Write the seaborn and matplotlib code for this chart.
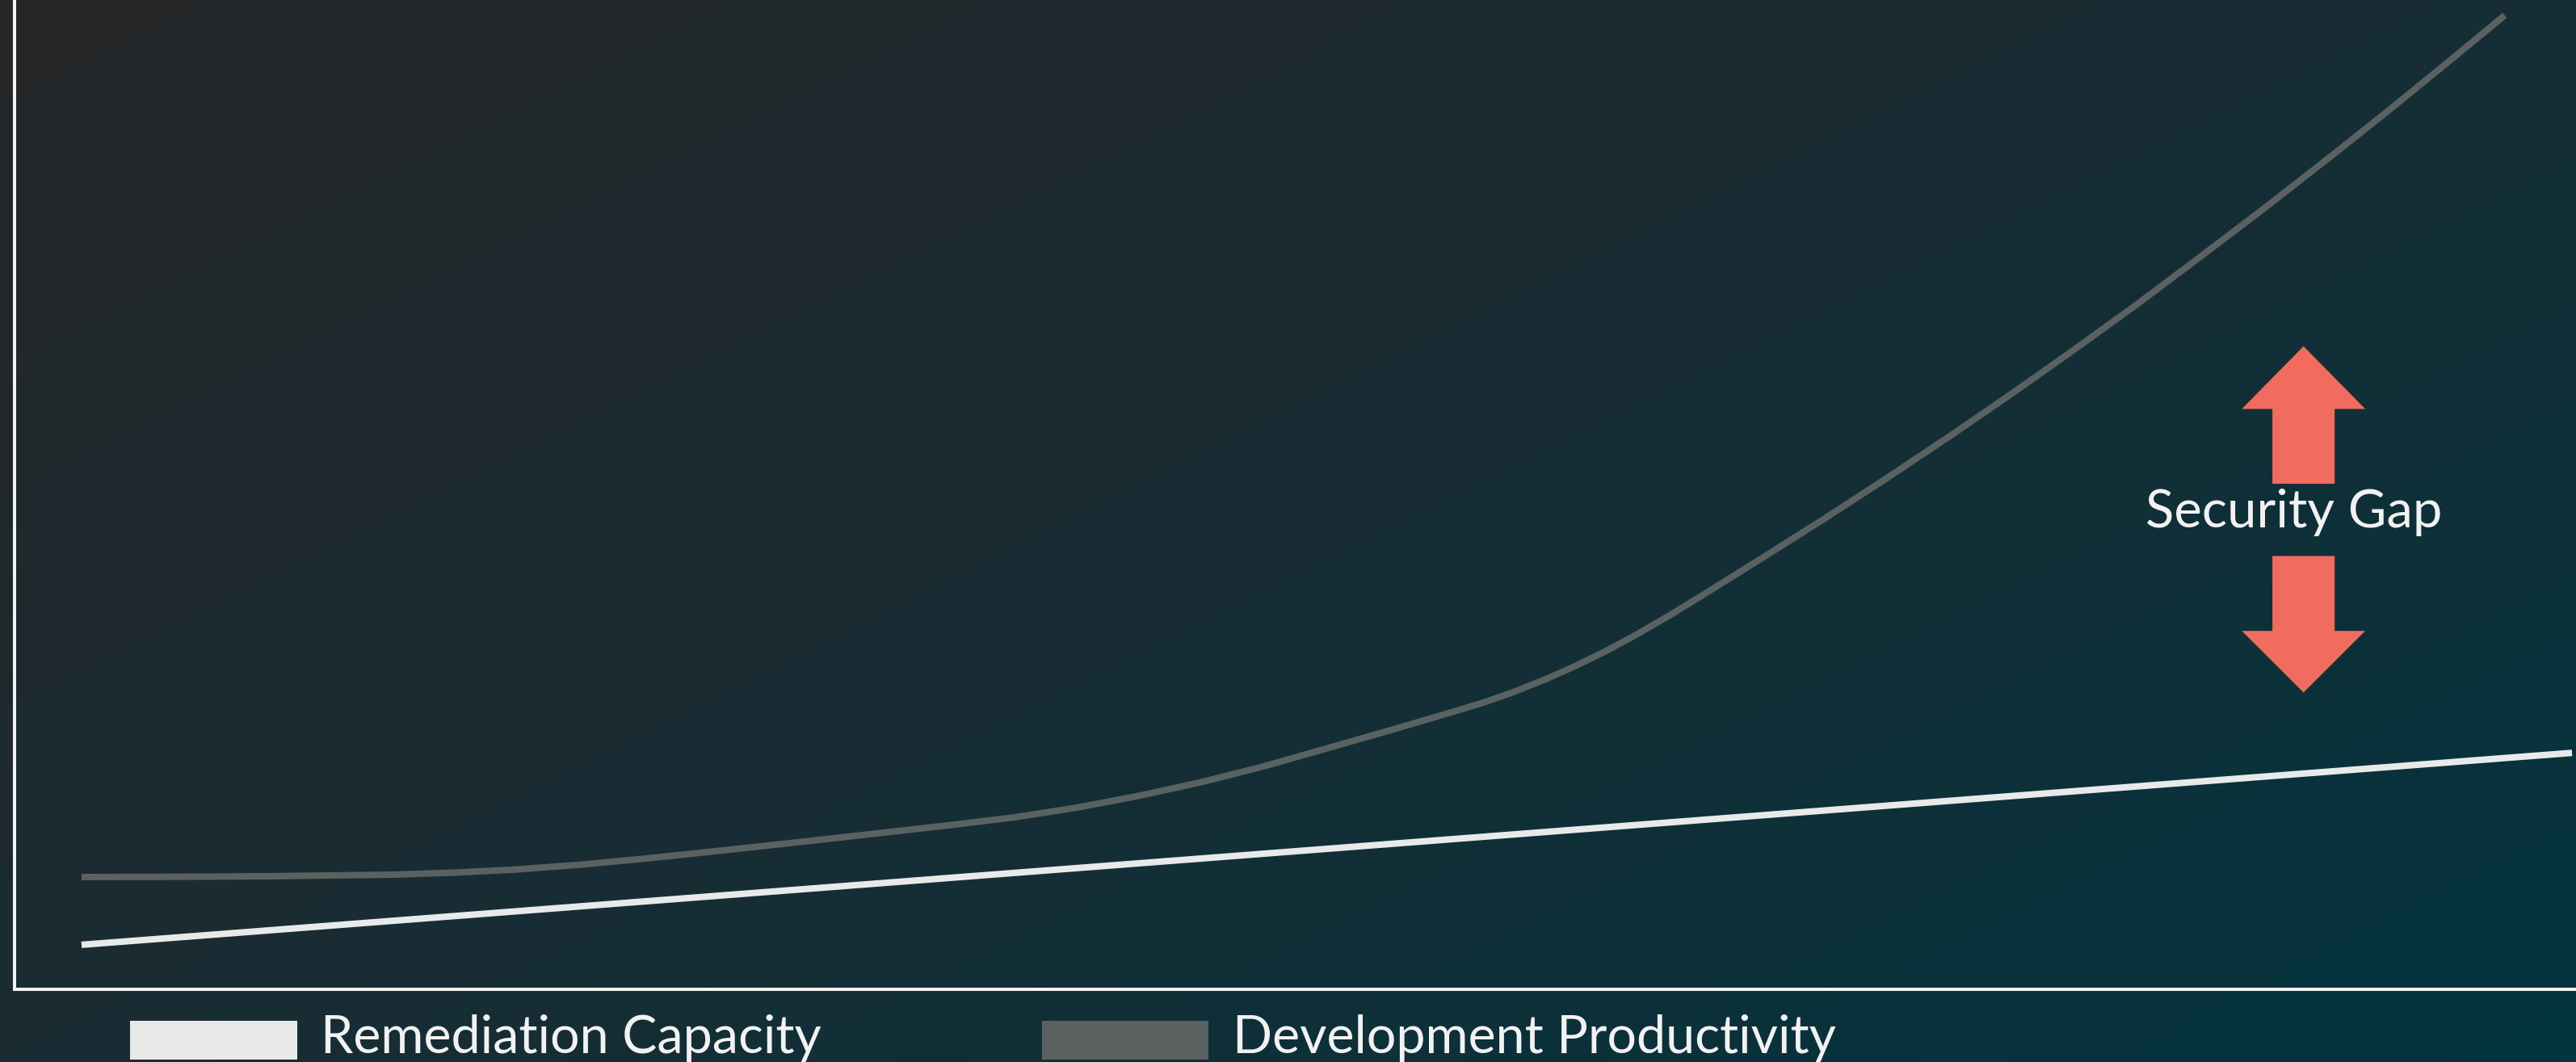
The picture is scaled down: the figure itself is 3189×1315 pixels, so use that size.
import numpy as np
import pandas as pd
import matplotlib
matplotlib.use("Agg")
import matplotlib.pyplot as plt
import seaborn as sns
from matplotlib.patches import Patch, FancyArrow, Rectangle
from matplotlib.legend_handler import HandlerPatch
from matplotlib.colors import LinearSegmentedColormap

# ---------------- data ----------------
series_names = ["Remediation Capacity", "Development Productivity"]

remediation_period = [0.0, 100.0]
remediation_value = [4.5, 23.9]

productivity_period = [0, 2.5, 5, 7.5, 10, 12.5, 15, 17.5, 20, 22.5, 25,
                       27.5, 30, 32.5, 35, 37.5, 40, 42.5, 45, 47.5, 50,
                       52.5, 55, 56.25, 57.5, 58.75, 60, 61.25, 62.5, 63.75,
                       65, 67.5, 70, 72.5, 75, 77.5, 80, 82.5, 85, 87.5, 90,
                       92.5, 95, 97.3]
productivity_value = [11.35, 11.36, 11.39, 11.43, 11.51, 11.59, 11.80, 12.12,
                      12.59, 13.18, 13.84, 14.52, 15.21, 15.92, 16.63, 17.40,
                      18.38, 19.58, 20.96, 22.56, 24.35, 26.15, 28.00, 28.95,
                      30.05, 31.30, 32.70, 34.25, 35.95, 37.77, 39.70, 43.63,
                      47.60, 51.69, 55.89, 60.20, 64.64, 69.18, 73.90, 78.67,
                      83.57, 88.56, 93.68, 98.45]

gap_label = "Security Gap"

line_colors = {"Remediation Capacity": "#e8eaea",
               "Development Productivity": "#5a6161"}
legend_colors = {"Remediation Capacity": "#e8eaea",
                 "Development Productivity": "#5b6161"}

df = pd.concat([
    pd.DataFrame({"period": remediation_period, "value": remediation_value,
                  "series": series_names[0]}),
    pd.DataFrame({"period": productivity_period, "value": productivity_value,
                  "series": series_names[1]}),
], ignore_index=True)

# ---------------- style ----------------
sns.set_theme(style="white")
plt.rcParams["font.family"] = ["Lato", "DejaVu Sans"]
plt.rcParams["lines.solid_capstyle"] = "butt"
plt.rcParams["lines.solid_joinstyle"] = "round"

W, H, DPI = 3189, 1315, 100
fig = plt.figure(figsize=(W / DPI, H / DPI), dpi=DPI)

# background gradient
bg = fig.add_axes([0, 0, 1, 1])
bg.set_axis_off()
xx, yy = np.meshgrid(np.linspace(0, 1, 640), np.linspace(0, 1, 264))
t = 0.55 * xx + 0.45 * yy
cmap = LinearSegmentedColormap.from_list(
    "bg", [(0.0, "#252627"), (0.45, "#1a2c33"), (1.0, "#03343f")])
bg.imshow(t, cmap=cmap, extent=[0, 1, 0, 1], aspect="auto",
          origin="upper", vmin=0, vmax=1, interpolation="bilinear")

# main axes
ax = fig.add_axes([18 / W, 90 / H, (W - 18) / W, 1225 / H])
ax.set_facecolor("none")

sns.lineplot(data=df, x="period", y="value", hue="series",
             palette=line_colors, linewidth=5.8, ax=ax, legend=False,
             estimator=None, sort=False)

ax.set_xlim(-2.69, 100.16)
ax.set_ylim(0, 100)
ax.set_xticks([])
ax.set_yticks([])
ax.set_xlabel("")
ax.set_ylabel("")
for side in ["top", "right"]:
    ax.spines[side].set_visible(False)
for side in ["left", "bottom"]:
    ax.spines[side].set_color("#f2f2f2")
    ax.spines[side].set_linewidth(2.9)

# gap arrows
arrow_x = 89.22
arrow_color = "#f26b5f"
ax.add_patch(FancyArrow(arrow_x, 51.1, 0, 13.9, width=2.5, head_width=4.96,
                        head_length=6.34, length_includes_head=True,
                        color=arrow_color, lw=0))
ax.add_patch(FancyArrow(arrow_x, 43.8, 0, -13.8, width=2.5, head_width=4.96,
                        head_length=6.23, length_includes_head=True,
                        color=arrow_color, lw=0))
ax.text(88.84, 46.67, gap_label, ha="center", va="baseline",
        fontsize=47, color="#f2f2f2")


# legend
def low_rect(legend, orig_handle, xdescent, ydescent, width, height, fontsize):
    return Rectangle((-xdescent, -ydescent - 0.1 * fontsize), width, height)


handles = [Patch(facecolor=legend_colors[n], edgecolor="none", label=n)
           for n in series_names]
fig.legend(handles=handles, ncol=2, loc="lower left",
           bbox_to_anchor=(161 / W, 0.0), frameon=False, fontsize=46.5,
           handlelength=3.2, handleheight=0.774, handletextpad=0.45,
           columnspacing=4.23, borderpad=0, borderaxespad=0,
           labelcolor="#f2f2f2",
           handler_map={Patch: HandlerPatch(patch_func=low_rect)})

fig.savefig("out.png", dpi=DPI)
